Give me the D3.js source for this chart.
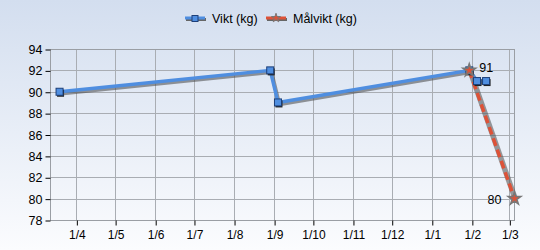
<!DOCTYPE html>
<html>
<head>
<meta charset="utf-8">
<script src="https://cdn.jsdelivr.net/npm/d3@7"></script>
<style>
  body { margin: 0; }
  svg { display: block; font-family: "Liberation Sans", Arial, sans-serif; }
</style>
</head>
<body>
<svg width="540" height="250"></svg>
<script>
// Data
const viktDates = ["2011-03-19", "2011-08-29", "2011-09-04", "2012-01-30", "2012-02-05", "2012-02-12"];
const viktValues = [90, 92, 89, 92, 91, 91];
const malDates = ["2012-01-30", "2012-03-05"];
const malValues = [92, 80];
const malLabels = ["91", "80"];
const seriesNames = ["Vikt (kg)", "Målvikt (kg)"];
const yTicks = [78, 80, 82, 84, 86, 88, 90, 92, 94];

const width = 540;
const height = 250;
const margin = { top: 49, right: 25.5, bottom: 30, left: 50.5 };

const parse = d3.timeParse("%Y-%m-%d");
const vikt = viktDates.map((d, i) => ({ date: parse(d), value: viktValues[i] }));
const mal = malDates.map((d, i) => ({ date: parse(d), value: malValues[i], label: malLabels[i] }));

const svg = d3.select("svg");

// Background gradient
const defs = svg.append("defs");
const grad = defs.append("linearGradient")
    .attr("id", "bg").attr("x1", 0).attr("y1", 0).attr("x2", 0).attr("y2", 1);
grad.append("stop").attr("offset", "0%").attr("stop-color", "#d3deef");
grad.append("stop").attr("offset", "100%").attr("stop-color", "#fbfcfe");
svg.append("rect").attr("width", width).attr("height", height).attr("fill", "url(#bg)");

// Scales
const x = d3.scaleTime()
    .domain([parse("2011-03-12"), parse("2012-03-05")])
    .range([margin.left, width - margin.right]);
const y = d3.scaleLinear()
    .domain([78, 94])
    .range([220, margin.top]);

// Grid
const months = d3.timeMonth.range(parse("2011-04-01"), parse("2012-03-02"));
svg.append("g")
    .selectAll("line")
    .data(months)
    .join("line")
    .attr("x1", d => Math.round(x(d)) + 0.5)
    .attr("x2", d => Math.round(x(d)) + 0.5)
    .attr("y1", y(94))
    .attr("y2", y(78))
    .attr("stroke", "#a9adb3")
    .attr("stroke-width", 1);
svg.append("g")
    .selectAll("line")
    .data(yTicks)
    .join("line")
    .attr("x1", margin.left)
    .attr("x2", width - margin.right)
    .attr("y1", d => Math.round(y(d)) + 0.5)
    .attr("y2", d => Math.round(y(d)) + 0.5)
    .attr("stroke", "#a9adb3")
    .attr("stroke-width", 1);

// Plot border
svg.append("rect")
    .attr("x", margin.left)
    .attr("y", Math.round(y(94)) + 0.5)
    .attr("width", width - margin.right - margin.left)
    .attr("height", Math.round(y(78)) - Math.round(y(94)))
    .attr("fill", "none")
    .attr("stroke", "#9a9ea4");

// Axes
const yAxis = svg.append("g")
    .attr("transform", `translate(${margin.left}, 0.5)`)
    .call(d3.axisLeft(y).tickValues(yTicks).tickSize(5).tickPadding(3));
yAxis.select(".domain").remove();
yAxis.selectAll("text").attr("font-size", 12.5).attr("fill", "#000");

const xAxis = svg.append("g")
    .attr("transform", `translate(0.5, ${Math.round(y(78)) + 0.5})`)
    .call(d3.axisBottom(x).tickValues(months).tickSize(5).tickPadding(5)
        .tickFormat(d => `1/${d.getMonth() + 1}`));
xAxis.select(".domain").remove();
xAxis.selectAll("text").attr("font-size", 12).attr("fill", "#000");

// Lines
const line = d3.line().x(d => x(d.date)).y(d => y(d.value));
const blue = "#4f8ee0";
const red = "#dd5238";
const shadow = "rgba(70,70,70,0.55)";

// Shadows
svg.append("path").datum(vikt)
    .attr("d", line).attr("fill", "none")
    .attr("stroke", shadow).attr("stroke-width", 3.5)
    .attr("transform", "translate(1.5,2)");
svg.append("path").datum(mal)
    .attr("d", line).attr("fill", "none")
    .attr("stroke", "rgba(90,90,90,0.6)").attr("stroke-width", 5.5)
    .attr("transform", "translate(1,1)");

svg.append("path").datum(vikt)
    .attr("d", line).attr("fill", "none")
    .attr("stroke", blue).attr("stroke-width", 3.5)
    .attr("stroke-linejoin", "round");

svg.append("path").datum(mal)
    .attr("d", line).attr("fill", "none")
    .attr("stroke", red).attr("stroke-width", 3.5)
    .attr("stroke-dasharray", "8,4");

// Vikt markers
svg.append("g").selectAll("rect.sh")
    .data(vikt)
    .join("rect")
    .attr("x", d => x(d.date) - 2.5)
    .attr("y", d => y(d.value) - 2)
    .attr("width", 7).attr("height", 7)
    .attr("fill", "#222");
svg.append("g").selectAll("rect.mk")
    .data(vikt)
    .join("rect")
    .attr("x", d => x(d.date) - 3.5)
    .attr("y", d => y(d.value) - 3.5)
    .attr("width", 7).attr("height", 7)
    .attr("fill", blue)
    .attr("stroke", "#1d3f78").attr("stroke-width", 1);

// Målvikt markers
const star = d3.symbol().type(d3.symbolStar).size(50);
svg.append("g").selectAll("path")
    .data(mal)
    .join("path")
    .attr("d", star)
    .attr("transform", d => `translate(${x(d.date)},${y(d.value)})`)
    .attr("fill", red)
    .attr("stroke", "#777").attr("stroke-width", 1.5);

// Data labels
svg.append("g").selectAll("text")
    .data(mal)
    .join("text")
    .attr("x", (d, i) => i === 0 ? x(d.date) + 10 : x(d.date) - 13)
    .attr("y", (d, i) => i === 0 ? y(d.value) + 2 : y(d.value) + 5)
    .attr("text-anchor", (d, i) => i === 0 ? "start" : "end")
    .attr("font-size", 12.5)
    .attr("fill", "#000")
    .text(d => d.label);

// Legend
const legend = svg.append("g").attr("transform", "translate(185, 18)");
const items = legend.selectAll("g")
    .data(seriesNames)
    .join("g")
    .attr("transform", (d, i) => `translate(${i * 81}, 0)`);
items.append("line")
    .attr("x1", 1).attr("x2", 21).attr("y1", 1.5).attr("y2", 1.5)
    .attr("stroke", "#666").attr("stroke-width", 3);
items.append("line")
    .attr("x1", 0).attr("x2", 20).attr("y1", 0).attr("y2", 0)
    .attr("stroke", (d, i) => i === 0 ? blue : red).attr("stroke-width", 3);
items.filter((d, i) => i === 0).append("rect")
    .attr("x", 7).attr("y", -2.5).attr("width", 6).attr("height", 6)
    .attr("fill", blue).attr("stroke", "#1d3f78");
items.filter((d, i) => i === 1).append("path")
    .attr("d", d3.symbol().type(d3.symbolStar).size(25))
    .attr("transform", "translate(10,0)")
    .attr("fill", red).attr("stroke", "#777");
items.append("text")
    .attr("x", 27).attr("y", 4.5)
    .attr("font-size", 12.5)
    .attr("fill", "#000")
    .text(d => d);
</script>
</body>
</html>
